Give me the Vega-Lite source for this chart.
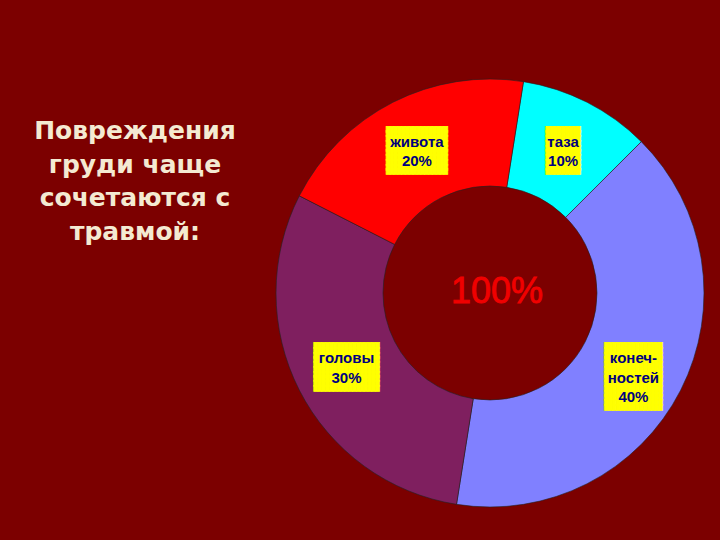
{
  "$schema": "https://vega.github.io/schema/vega-lite/v6.json",
  "autosize": {"type": "none"},
  "padding": {"left": 276, "top": 79, "right": 16, "bottom": 33},
  "width": 428,
  "height": 428,
  "background": "#7C0000",
  "config": {"view": {"stroke": null}},
  "title": {
    "text": ["Повреждения", "груди чаще", "сочетаются с", "травмой:"],
    "orient": "top",
    "anchor": "start",
    "frame": "group",
    "align": "center",
    "baseline": "top",
    "dx": -141,
    "dy": 171,
    "font": "DejaVu Sans",
    "fontSize": 25,
    "fontWeight": "bold",
    "lineHeight": 33.5,
    "color": "#F4EAD2"
  },
  "data": {
    "values": [
      {"i": 1, "name": "таза", "value": 10, "label": "таза\n10%"},
      {"i": 2, "name": "конечностей", "value": 40, "label": "конеч-\nностей\n40%"},
      {"i": 3, "name": "головы", "value": 30, "label": "головы\n30%"},
      {"i": 4, "name": "живота", "value": 20, "label": "живота\n20%"}
    ]
  },
  "layer": [
    {
      "mark": {"type": "arc", "innerRadius": 107, "outerRadius": 214, "stroke": "#222222", "strokeWidth": 0.6},
      "encoding": {
        "theta": {"field": "value", "type": "quantitative", "stack": true, "scale": {"range": [0.15708, 6.44026]}},
        "order": {"field": "i", "type": "quantitative"},
        "color": {
          "field": "name",
          "type": "nominal",
          "scale": {"domain": ["таза", "конечностей", "головы", "живота"], "range": ["#00FFFF", "#8080FF", "#7F1F5F", "#FF0000"]},
          "legend": null
        }
      }
    },
    {
      "mark": {"type": "text", "font": "DejaVu Sans", "fontSize": 5, "lineHeight": 4.75, "align": "center", "baseline": "middle", "dy": -21, "color": "#FFFF00", "stroke": "#FFFF00", "strokeWidth": 0.8},
      "encoding": {
        "theta": {"field": "value", "type": "quantitative", "stack": true},
        "order": {"field": "i", "type": "quantitative"},
        "radius": {"value": 161},
        "text": {
          "condition": [
            {"test": "datum.name === 'таза'", "value": ["█████████", "█████████", "█████████", "█████████", "█████████", "█████████", "█████████", "█████████", "█████████", "█████████"]},
            {"test": "datum.name === 'конечностей'", "value": ["███████████████", "███████████████", "███████████████", "███████████████", "███████████████", "███████████████", "███████████████", "███████████████", "███████████████", "███████████████", "███████████████", "███████████████", "███████████████", "███████████████"]},
            {"test": "datum.name === 'головы'", "value": ["█████████████████", "█████████████████", "█████████████████", "█████████████████", "█████████████████", "█████████████████", "█████████████████", "█████████████████", "█████████████████", "█████████████████"]}
          ],
          "value": ["████████████████", "████████████████", "████████████████", "████████████████", "████████████████", "████████████████", "████████████████", "████████████████", "████████████████", "████████████████"]
        }
      }
    },
    {
      "mark": {"type": "text", "font": "Liberation Sans", "fontSize": 15, "fontWeight": "bold", "lineHeight": 19.7, "lineBreak": "\n", "align": "center", "baseline": "middle", "dy": -8, "color": "#00007F"},
      "encoding": {
        "theta": {"field": "value", "type": "quantitative", "stack": true},
        "order": {"field": "i", "type": "quantitative"},
        "radius": {"value": 161},
        "text": {"field": "label", "type": "nominal"}
      }
    },
    {
      "data": {"values": [{"t": "100%"}]},
      "mark": {"type": "text", "font": "Liberation Sans", "fontSize": 36, "align": "center", "baseline": "middle", "dx": 7, "dy": -1, "color": "#F00000", "stroke": "#F00000", "strokeWidth": 0.8},
      "encoding": {"text": {"field": "t", "type": "nominal"}}
    }
  ]
}
